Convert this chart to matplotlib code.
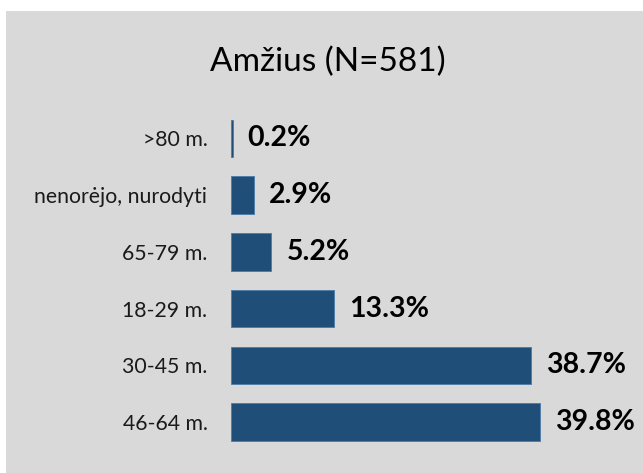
import matplotlib
matplotlib.use("Agg")
import matplotlib.pyplot as plt
from matplotlib.patches import Rectangle

categories = [">80 m.", "nenorėjo, nurodyti", "65-79 m.", "18-29 m.", "30-45 m.", "46-64 m."]
values = [0.2, 2.9, 5.2, 13.3, 38.7, 39.8]
value_labels = ["0.2%", "2.9%", "5.2%", "13.3%", "38.7%", "39.8%"]
title = "Amžius (N=581)"

plt.rcParams['font.family'] = ['Lato', 'DejaVu Sans']

W, H = 643, 473
fig = plt.figure(figsize=(W / 100, H / 100), dpi=100, facecolor="white")
fig.patches.append(Rectangle((6 / W, 0), 1 - 6 / W, 1 - 11 / H, transform=fig.transFigure,
                             facecolor="#D9D9D9", edgecolor="none", zorder=-5))

ax = fig.add_axes([231 / W, (H - 450.5) / H, 388 / W, 340.5 / H])
ax.set_zorder(2)
ax.set_facecolor("none")
ypos = list(range(len(categories)))
ax.barh(ypos, values, height=0.66, color="#1F4E79", edgecolor="#4A7AA8", linewidth=0.6)
ax.set_xlim(0, 50)
ax.set_ylim(len(categories) - 0.5, -0.5)
ax.set_yticks(ypos)
ax.set_yticklabels(categories, fontsize=15.3, color="#1a1a1a")
ax.tick_params(axis="y", length=0, pad=17)
ax.set_xticks([])
for s in ax.spines.values():
    s.set_visible(False)

for y, v, lab in zip(ypos, values, value_labels):
    ax.annotate(lab, (v, y), xytext=(15, 0), textcoords="offset pixels",
                ha="left", va="center", fontsize=20.5, fontweight="bold",
                color="black", annotation_clip=False)

fig.text(328 / W, 1 - 62 / H, title, ha="center", va="center", fontsize=24, color="black", zorder=3)

fig.savefig("out.png", dpi=100, facecolor="white")
